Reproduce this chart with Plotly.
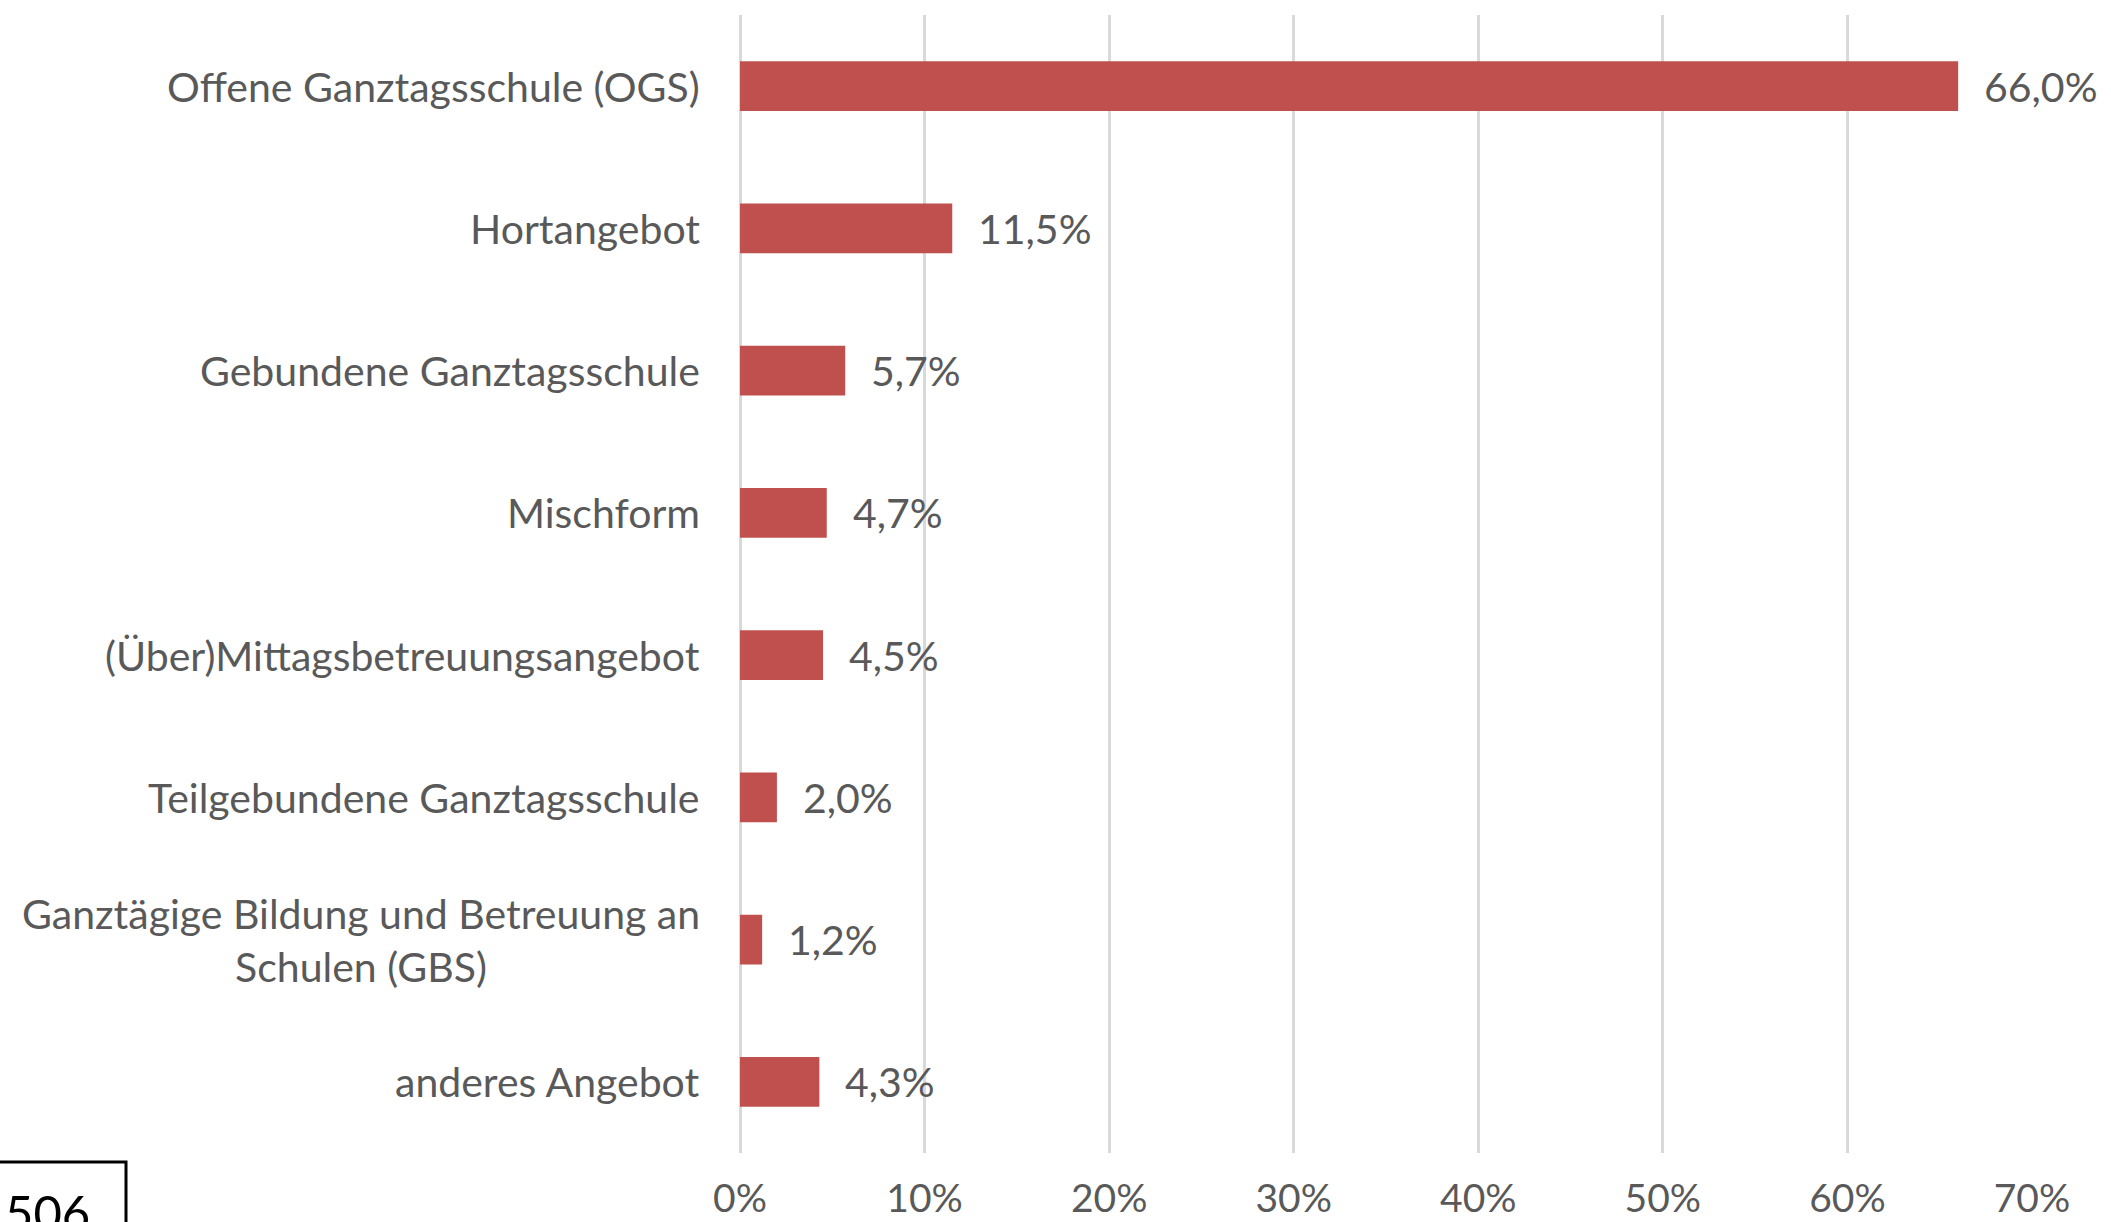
import plotly.graph_objects as go

categories = [
    "Offene Ganztagsschule (OGS)",
    "Hortangebot",
    "Gebundene Ganztagsschule",
    "Mischform",
    "(Über)Mittagsbetreuungsangebot",
    "Teilgebundene Ganztagsschule",
    "Ganztägige Bildung und Betreuung an<br>Schulen (GBS)",
    "anderes Angebot",
]
values = [66.0, 11.5, 5.7, 4.7, 4.5, 2.0, 1.2, 4.3]
x_ticks = [0, 10, 20, 30, 40, 50, 60, 70]
x_tick_labels = ["0%", "10%", "20%", "30%", "40%", "50%", "60%", "70%"]
box_label = "506"

W, H = 2111, 1222
L, R, T, B = 740, 79, 15, 69
FONT = "Lato"
TXT = "#595959"
FS = 41

cat_ids = list(range(len(categories)))

fig = go.Figure()
fig.add_trace(go.Bar(
    x=values, y=cat_ids, orientation="h",
    marker=dict(color="#C0504D", line=dict(width=0)),
    hoverinfo="skip",
))

ann = []
for i, (c, v) in enumerate(zip(categories, values)):
    ann.append(dict(x=0, y=i, xref="x", yref="y", text=c, showarrow=False,
                    xanchor="right", yanchor="middle", align="center", xshift=-38,
                    font=dict(family=FONT, size=FS, color=TXT)))
    ann.append(dict(x=v, y=i, xref="x", yref="y",
                    text=f"{v:.1f}".replace(".", ",") + "%", showarrow=False,
                    xanchor="left", yanchor="middle", xshift=24,
                    font=dict(family=FONT, size=FS, color=TXT)))

pw, ph = W - L - R, H - T - B
def px_x(p):
    return (p - L) / pw
def px_y(p):
    return (H - B - p) / ph

ann.append(dict(x=px_x(4), y=px_y(1182), xref="paper", yref="paper", text=box_label,
                showarrow=False, xanchor="left", yanchor="top", borderpad=0,
                font=dict(family=FONT, size=49, color="#000000")))

fig.update_layout(
    width=W, height=H,
    margin=dict(l=L, r=R, t=T, b=B, pad=0, autoexpand=False),
    paper_bgcolor="white", plot_bgcolor="white",
    showlegend=False, bargap=0.65,
    annotations=ann,
    shapes=[dict(type="rect", xref="paper", yref="paper",
                 x0=px_x(-5), x1=px_x(126), y0=px_y(1162), y1=px_y(1260),
                 line=dict(color="black", width=3), fillcolor="rgba(0,0,0,0)")],
    xaxis=dict(range=[0, 70], tickvals=x_ticks, ticktext=x_tick_labels,
               showgrid=True, gridcolor="#D9D9D9", gridwidth=3,
               zeroline=True, zerolinecolor="#D9D9D9", zerolinewidth=3,
               showline=False, ticks="", ticklabelstandoff=19, automargin=False,
               tickfont=dict(family=FONT, size=39, color=TXT)),
    yaxis=dict(range=[len(categories) - 0.5, -0.5], showgrid=False, zeroline=False,
               showticklabels=False, ticks="", showline=False, automargin=False),
)

fig.write_html("out.html", config={"displayModeBar": False},
               post_script="document.body.style.margin='0';document.body.style.overflow='hidden';")
